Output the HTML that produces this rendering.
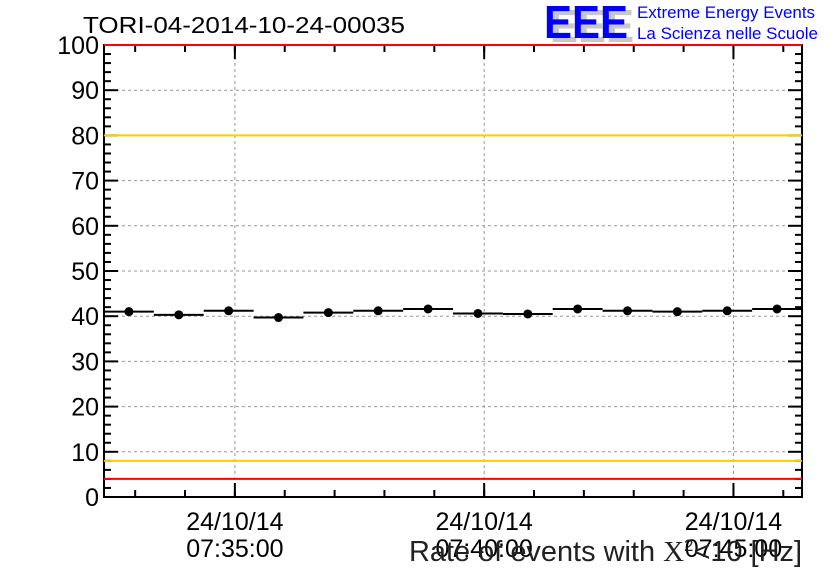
<!DOCTYPE html>
<html><head><meta charset="utf-8"><style>
body{margin:0;background:#fff;width:836px;height:572px;overflow:hidden}
svg text{font-family:"Liberation Sans",sans-serif}
</style></head><body>
<svg id="chart" width="836" height="572" xmlns="http://www.w3.org/2000/svg">
<text x="83" y="33" font-size="23" textLength="322" lengthAdjust="spacingAndGlyphs">TORI-04-2014-10-24-00035</text>
<g>
<text x="550" y="42" font-size="46" font-weight="bold" fill="#c8c8c8" textLength="84" lengthAdjust="spacingAndGlyphs">EEE</text>
<text x="544" y="38" font-size="46" font-weight="bold" fill="#0000ff" textLength="84" lengthAdjust="spacingAndGlyphs">EEE</text>
<text x="637" y="18" font-size="17" fill="#0000ff" textLength="178" lengthAdjust="spacingAndGlyphs">Extreme Energy Events</text>
<text x="637" y="39" font-size="17" fill="#0000ff" textLength="181" lengthAdjust="spacingAndGlyphs">La Scienza nelle Scuole</text>
</g>
<g id="grid"></g>
<g id="axes"></g>
<g id="marks"></g>
<text x="409" y="561" font-size="29" fill="#222" textLength="393" lengthAdjust="spacingAndGlyphs">Rate of events with <tspan font-family="Liberation Serif">X</tspan><tspan font-size="17" dy="-10">2</tspan><tspan dy="10">&lt;10 [Hz]</tspan></text>
</svg>
<script>
const binStartMin = 0;
const values = [41.0, 40.3, 41.2, 39.7, 40.8, 41.2, 41.6, 40.6, 40.5, 41.6, 41.2, 41.0, 41.2, 41.6];
const yTicks = [0,10,20,30,40,50,60,70,80,90,100];
const xTickMinutes = [2.625, 7.625, 12.625];
const xTickLabels = [["24/10/14","07:35:00"],["24/10/14","07:40:00"],["24/10/14","07:45:00"]];
const refLines = [{v:80,c:"#ffcc00"},{v:8,c:"#ffcc00"},{v:4,c:"#ff0000"},{v:100,c:"#ff0000"}];

const L=104,R=802,T=45,B=497,NS="http://www.w3.org/2000/svg";
const xMin=0,xMax=14;
const X=m=>L+(m-xMin)/(xMax-xMin)*(R-L);
const Y=v=>B-v/100*(B-T);
function mk(tag,attrs,parent,text){const e=document.createElementNS(NS,tag);for(const k in attrs)e.setAttribute(k,attrs[k]);if(text!==undefined)e.textContent=text;parent.appendChild(e);return e;}
const grid=document.getElementById('grid'),axes=document.getElementById('axes'),marks=document.getElementById('marks');
yTicks.forEach(v=>{
  if(v>0&&v<100){const g=mk('line',{x1:L,x2:R,y1:Y(v),y2:Y(v),stroke:'#999','stroke-dasharray':'3,3','stroke-width':1},grid);
  
  }
  const t=mk('text',{x:L-5,y:Y(v)+9,'font-size':25,'text-anchor':'end'},axes,String(v));
  
  
  [L,R].forEach((x0,i)=>{mk('line',{x1:x0,x2:x0+(i?-14:14),y1:Y(v),y2:Y(v),stroke:'#000','stroke-width':2},axes);});
});
for(let v=0;v<100;v+=2){ if(v%10) [L,R].forEach((x0,i)=>mk('line',{x1:x0,x2:x0+(i?-7:7),y1:Y(v),y2:Y(v),stroke:'#000','stroke-width':2},axes)); }
xTickMinutes.forEach((m,i)=>{
  const g=mk('line',{x1:X(m),x2:X(m),y1:T,y2:B,stroke:'#999','stroke-dasharray':'3,3'},grid);
  
  
  mk('line',{x1:X(m),x2:X(m),y1:B,y2:B-14,stroke:'#000','stroke-width':2},axes);
  mk('line',{x1:X(m),x2:X(m),y1:T,y2:T+14,stroke:'#000','stroke-width':2},axes);
  const t=mk('text',{x:X(m),y:530,'font-size':25,'text-anchor':'middle'},axes,xTickLabels[i][0]);
  
  
  const t2=mk('text',{x:X(m),y:557,'font-size':25,'text-anchor':'middle'},axes,xTickLabels[i][1]);
  
  
});
for(let m=xTickMinutes[0]-2;m<xMax;m+=1){ if(m>xMin){mk('line',{x1:X(m),x2:X(m),y1:B,y2:B-7,stroke:'#000','stroke-width':2},axes);mk('line',{x1:X(m),x2:X(m),y1:T,y2:T+7,stroke:'#000','stroke-width':2},axes);} }
refLines.forEach(r=>{const l=mk('line',{x1:L,x2:R,y1:Y(r.v),y2:Y(r.v),stroke:r.c,'stroke-width':2},marks);
  
  });
const fr=mk('rect',{x:L,y:T,width:R-L,height:B-T,fill:'none',stroke:'#000','stroke-width':2},axes);


values.forEach((v,i)=>{
  const s=mk('line',{x1:X(binStartMin+i),x2:X(binStartMin+i+1),y1:Y(v),y2:Y(v),stroke:'#000','stroke-width':2},marks);
  
  
  const c=mk('circle',{cx:X(binStartMin+i+0.5),cy:Y(v),r:4.5,fill:'#000'},marks);
  
  
});
</script>
</body></html>
